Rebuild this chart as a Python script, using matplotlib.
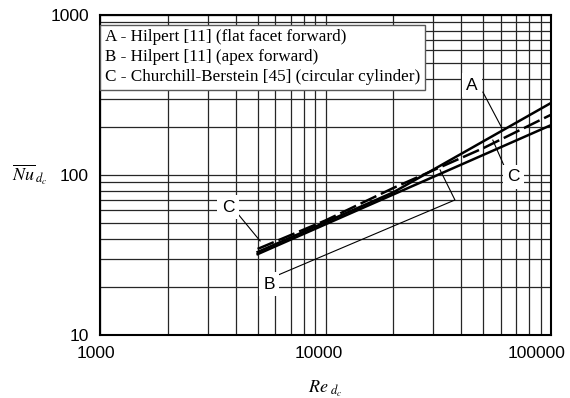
import numpy as np
import matplotlib
matplotlib.use("Agg")
import matplotlib.pyplot as plt
from matplotlib.ticker import LogLocator, NullFormatter
from matplotlib.transforms import ScaledTranslation

plt.rcParams['font.family'] = ['Liberation Sans', 'DejaVu Sans']
plt.rcParams['mathtext.fontset'] = 'stix'

# Data (Re_dc, mean Nu_dc)
re_a = [5000, 20000, 100000]          # A - Hilpert, flat facet forward
nu_a = [33, 78, 282]
re_b = [5000, 100000]                 # B - Hilpert, apex forward
nu_b = [32, 205]
re_c = [5000, 10000, 20000, 50000, 100000]   # C - Churchill-Bernstein
nu_c = [34.5, 52, 83, 147, 238]

x_ticks = [1000, 10000, 100000]
y_ticks = [10, 100, 1000]

legend_lines = ["A - Hilpert [11] (flat facet forward)",
                "B - Hilpert [11] (apex forward)",
                "C - Churchill-Berstein [45] (circular cylinder)"]

fig = plt.figure(figsize=(5.70, 3.98), dpi=100)
ax = fig.add_axes([100 / 570, 63 / 398, 451 / 570, 320 / 398])

ax.set_xscale('log')
ax.set_yscale('log')
ax.set_xlim(1000, 100000)
ax.set_ylim(10, 1000)

# grid
ax.xaxis.set_minor_locator(LogLocator(base=10, subs=np.arange(2, 10)))
ax.yaxis.set_minor_locator(LogLocator(base=10, subs=np.arange(2, 10)))
ax.xaxis.set_minor_formatter(NullFormatter())
ax.yaxis.set_minor_formatter(NullFormatter())
ax.grid(True, which='both', color='0.15', linewidth=0.9)
ax.set_axisbelow(True)

ax.set_xticks(x_ticks, labels=[str(v) for v in x_ticks])
ax.set_yticks(y_ticks, labels=[str(v) for v in y_ticks])
ax.tick_params(axis='both', which='both', length=0, labelsize=12.5)
ax.tick_params(axis='x', pad=8)
ax.tick_params(axis='y', pad=8)
# the reference puts the x labels a little left of their grid lines
for lab, dx in zip(ax.get_xticklabels(), [-4, -7, -14]):
    lab.set_transform(lab.get_transform() + ScaledTranslation(dx / 100, 0, fig.dpi_scale_trans))

for s in ax.spines.values():
    s.set_linewidth(1.5)
    s.set_color('black')

# curves
ax.plot(re_a, nu_a, color='black', linewidth=1.8, zorder=3)
ax.plot(re_b, nu_b, color='black', linewidth=1.8, zorder=3)
ax.plot(re_c, nu_c, color='black', linewidth=1.8, linestyle=(0, (7, 2)), zorder=3)

# legend box (text only)
ax.text(0.010, 0.955, "\n".join(legend_lines), transform=ax.transAxes,
        ha='left', va='top', fontsize=12.3, family='Liberation Serif',
        linespacing=1.32, zorder=5,
        bbox=dict(boxstyle='square,pad=0.28', facecolor='white',
                  edgecolor='0.35', linewidth=1.0))

# curve labels with leader lines (axes fractions)
lab_kw = dict(transform=ax.transAxes, ha='center', va='center', fontsize=12.5,
              zorder=6, bbox=dict(boxstyle='square,pad=0.25', facecolor='white',
                                  edgecolor='none'))
line_kw = dict(transform=ax.transAxes, color='black', linewidth=0.8, zorder=4)

ax.text(0.825, 0.781, "A", **lab_kw)
ax.plot([0.849, 0.891], [0.759, 0.647], **line_kw)

ax.text(0.916, 0.494, "C", **lab_kw)
ax.plot([0.898, 0.871], [0.522, 0.609], **line_kw)

ax.text(0.284, 0.400, "C", **lab_kw)
ax.plot([0.306, 0.355], [0.378, 0.294], **line_kw)

ax.text(0.375, 0.159, "B", **lab_kw)
ax.plot([0.395, 0.787, 0.754], [0.1875, 0.422, 0.516], **line_kw)

# axis labels
ax.set_xlabel(r'$Re_{\ d_c}$', fontsize=13)
ax.xaxis.set_label_coords(0.5, -0.17)
ax.xaxis.label.set_verticalalignment('center')
ax.set_ylabel(r'$\overline{Nu}_{\,d_c}$', fontsize=13, rotation=0)
ax.yaxis.set_label_coords(-0.157, 0.5)
ax.yaxis.label.set_horizontalalignment('center')
ax.yaxis.label.set_verticalalignment('center')

fig.savefig('out.png', dpi=100)
